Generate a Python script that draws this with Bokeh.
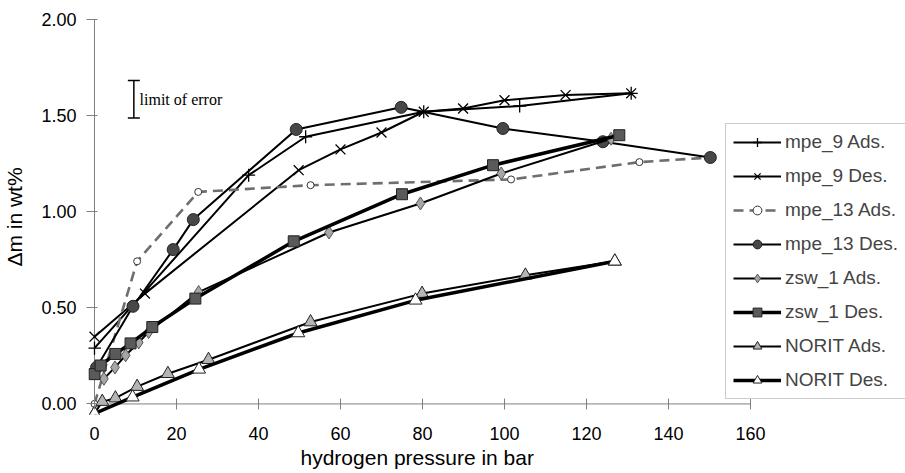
import math
from bokeh.plotting import figure
from bokeh.models import (Range1d, FixedTicker, PrintfTickFormatter, Legend, LegendItem,
                          Label, Whisker, TeeHead, ColumnDataSource, Title)
from bokeh.embed import file_html
from bokeh.resources import INLINE

# ---------------- data (pressure in bar, delta m in wt%) ----------------
mpe9_ads_p = [0.0, 37.6, 51.5, 80.3, 103.7, 130.9]
mpe9_ads_m = [0.29, 1.19, 1.39, 1.52, 1.55, 1.616]

mpe9_des_p = [0.0, 12.3, 49.8, 60.0, 70.0, 80.3, 89.9, 100.0, 114.9, 130.9]
mpe9_des_m = [0.35, 0.574, 1.216, 1.324, 1.412, 1.52, 1.537, 1.58, 1.607, 1.616]

mpe13_ads_p = [0.0, 10.4, 25.3, 52.7, 101.6, 132.9, 150.2]
mpe13_ads_m = [0.0, 0.742, 1.103, 1.138, 1.168, 1.258, 1.282]

mpe13_des_p = [0.5, 9.4, 19.2, 24.1, 49.2, 74.8, 99.6, 124.0, 150.2]
mpe13_des_m = [0.19, 0.508, 0.803, 0.959, 1.428, 1.543, 1.433, 1.364, 1.282]

zsw1_ads_p = [2.3, 5.0, 7.6, 10.8, 13.2, 25.4, 57.2, 79.5, 99.2, 126.0]
zsw1_ads_m = [0.131, 0.19, 0.253, 0.32, 0.374, 0.582, 0.892, 1.043, 1.199, 1.38]

zsw1_des_p = [0.0, 1.5, 5.1, 8.8, 14.1, 24.6, 48.6, 75.0, 97.2, 128.0]
zsw1_des_m = [0.155, 0.2, 0.26, 0.315, 0.40, 0.548, 0.846, 1.091, 1.242, 1.398]

norit_ads_p = [0.0, 1.9, 5.1, 10.4, 17.9, 27.8, 52.7, 79.9, 105.1, 126.9]
norit_ads_m = [-0.05, 0.012, 0.03, 0.09, 0.157, 0.23, 0.426, 0.574, 0.669, 0.742]

norit_des_p = [0.0, 9.3, 25.5, 49.7, 78.3, 126.9]
norit_des_m = [-0.05, 0.035, 0.18, 0.369, 0.539, 0.742]

x_ticks = [0, 20, 40, 60, 80, 100, 120, 140, 160]
y_ticks = [0.0, 0.5, 1.0, 1.5, 2.0]

x_title = "hydrogen pressure in bar"
y_title = "\u0394m in wt%"

# error-bar annotation (data units)
ERR_X, ERR_LO, ERR_HI = 9.6, 1.487, 1.683

FONT = "Liberation Sans"
AX = "#808080"

p = figure(width=905, height=473, output_backend="svg", toolbar_location=None,
           x_range=Range1d(-1.46, 197.8), y_range=Range1d(-0.055, 2.0),
           min_border_left=88, min_border_right=0, min_border_top=19, min_border_bottom=59)
p.outline_line_color = None
p.grid.visible = False
p.background_fill_color = "white"
p.border_fill_color = "white"

# axis lines drawn where the axes cross (x = 0, y = 0)
p.segment(x0=[x_ticks[0], 0], y0=[0, y_ticks[0]], x1=[x_ticks[-1], 0], y1=[0, y_ticks[-1]],
          line_color=AX, line_width=1)

xa = p.xaxis[0]
xa.bounds = (x_ticks[0], x_ticks[-1])
xa.ticker = FixedTicker(ticks=x_ticks)
xa.axis_line_color = None
xa.major_tick_line_color = AX
xa.minor_tick_line_color = None
xa.minor_tick_out = 0
xa.major_tick_in = 16
xa.major_tick_out = -5
xa.major_label_text_font = FONT
xa.major_label_text_font_size = "18px"
xa.major_label_text_color = "black"
xa.major_label_standoff = 12

# x-axis title, placed under the axis (left aligned with an offset)
p.add_layout(Title(text=x_title, align="left", offset=212, standoff=3,
                   text_font=FONT, text_font_size="21px", text_font_style="normal",
                   text_color="black"), "below")

ya = p.yaxis[0]
ya.bounds = (y_ticks[0], y_ticks[-1])
ya.ticker = FixedTicker(ticks=y_ticks)
ya.formatter = PrintfTickFormatter(format="%.2f")
ya.axis_line_color = None
ya.major_tick_line_color = AX
ya.minor_tick_line_color = None
ya.minor_tick_out = 0
ya.major_tick_in = 9
ya.major_tick_out = 2
ya.major_label_text_font = FONT
ya.major_label_text_font_size = "18px"
ya.major_label_text_color = "black"
ya.major_label_standoff = 10
ya.axis_label = y_title
ya.axis_label_text_font = FONT
ya.axis_label_text_font_size = "21px"
ya.axis_label_text_font_style = "normal"
ya.axis_label_text_color = "black"
ya.axis_label_standoff = 12

series = [
    ("mpe_9 Ads.", mpe9_ads_p, mpe9_ads_m, dict(line_color="black", line_width=2),
     dict(marker="cross", size=13, line_color="black", line_width=1.3, fill_color=None)),
    ("mpe_9 Des.", mpe9_des_p, mpe9_des_m, dict(line_color="black", line_width=2),
     dict(marker="x", size=14, line_color="black", line_width=1.3, fill_color=None)),
    ("mpe_13 Ads.", mpe13_ads_p, mpe13_ads_m, dict(line_color="#6e6e6e", line_width=2.6, line_dash="10 6"),
     dict(marker="circle", size=7, line_color="#333333", line_width=1, fill_color="white")),
    ("mpe_13 Des.", mpe13_des_p, mpe13_des_m, dict(line_color="black", line_width=2),
     dict(marker="circle", size=12, line_color="#222222", line_width=1, fill_color="#474747")),
    ("zsw_1 Ads.", zsw1_ads_p, zsw1_ads_m, dict(line_color="black", line_width=2),
     dict(marker="diamond", size=13, line_color="#555555", line_width=1, fill_color="#a6a6a6")),
    ("zsw_1 Des.", zsw1_des_p, zsw1_des_m, dict(line_color="black", line_width=3.5),
     dict(marker="square", size=11, line_color="#222222", line_width=1, fill_color="#5a5a5a")),
    ("NORIT Ads.", norit_ads_p, norit_ads_m, dict(line_color="black", line_width=2),
     dict(marker="triangle", size=13, line_color="#222222", line_width=1, fill_color="#b4b4b4")),
    ("NORIT Des.", norit_des_p, norit_des_m, dict(line_color="black", line_width=3.5),
     dict(marker="triangle", size=13, line_color="#222222", line_width=1, fill_color="white")),
]

items = []
for label, xs, ys, lkw, mkw in series:
    src = ColumnDataSource(dict(x=xs, y=ys))
    lr = p.line("x", "y", source=src, **lkw)
    sr = p.scatter("x", "y", source=src, **mkw)
    items.append(LegendItem(label=label, renderers=[lr, sr]))

legend = Legend(items=items, location=(637, 15), margin=0, padding=7, spacing=12,
                glyph_width=48, glyph_height=22, label_height=22, label_standoff=4,
                label_text_font=FONT, label_text_font_size="19px",
                border_line_color="#999999", border_line_width=1,
                background_fill_color="white", background_fill_alpha=1.0)
p.add_layout(legend)

# limit of error marker
err_src = ColumnDataSource(dict(x=[ERR_X], lo=[ERR_LO], hi=[ERR_HI]))
p.add_layout(Whisker(source=err_src, base="x", lower="lo", upper="hi", dimension="height",
                     line_color="black", line_width=1.5,
                     upper_head=TeeHead(size=12, line_width=1.5, line_color="black"),
                     lower_head=TeeHead(size=12, line_width=1.5, line_color="black")))
p.add_layout(Label(x=ERR_X + 1.4, y=(ERR_LO + ERR_HI) / 2, text="limit of error",
                   text_font="Liberation Serif", text_font_size="16px",
                   text_baseline="middle", text_align="left", text_color="black"))

open("out.html", "w").write(file_html(p, INLINE))
